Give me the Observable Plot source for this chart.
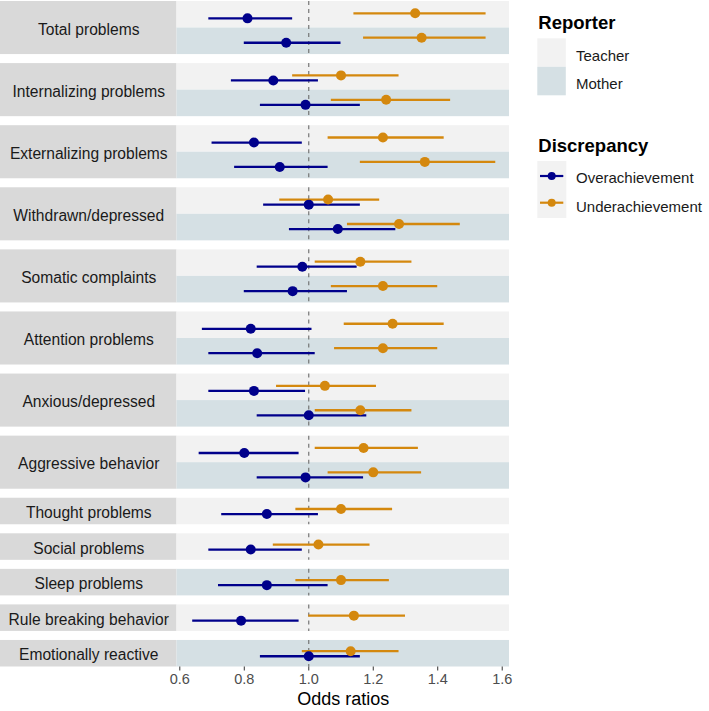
<!DOCTYPE html>
<html><head><meta charset="utf-8">
<script src="https://cdn.jsdelivr.net/npm/d3@7"></script>
<script src="https://cdn.jsdelivr.net/npm/@observablehq/plot@0.6"></script>
<style>
body{margin:0;background:#fff;font-family:"Liberation Sans",Arial,sans-serif;}
#wrap{position:relative;width:709px;height:711px;overflow:hidden;}
#chart{position:absolute;left:0;top:0;}
#legend{position:absolute;left:520px;top:0;}
g[aria-label="x-axis label"] text{fill:#000;font-size:18px;}
</style></head><body>
<div id="wrap"><div id="chart"></div><svg id="legend" width="189" height="711"></svg></div>
<script>
// ---------- data ----------
const problems = ["Total problems","Internalizing problems","Externalizing problems","Withdrawn/depressed","Somatic complaints","Attention problems","Anxious/depressed","Aggressive behavior","Thought problems","Social problems","Sleep problems","Rule breaking behavior","Emotionally reactive"];
const reporters = ["Teacher","Mother"];
const discrepancies = ["Overachievement","Underachievement"];
const xTicks = [0.6,0.8,1.0,1.2,1.4,1.6];

const teacherOverOR = [0.81,0.89,0.83,1.00,0.98,0.82,0.83,0.80,0.87,0.82,null,0.79,null];
const teacherOverLo = [0.69,0.76,0.70,0.86,0.84,0.67,0.69,0.66,0.73,0.69,null,0.64,null];
const teacherOverHi = [0.95,1.03,0.98,1.16,1.15,1.01,0.99,0.97,1.03,0.98,null,0.97,null];
const teacherUnderOR = [1.33,1.10,1.23,1.06,1.16,1.26,1.05,1.17,1.10,1.03,null,1.14,null];
const teacherUnderLo = [1.14,0.95,1.06,0.91,1.02,1.11,0.90,1.02,0.96,0.89,null,1.00,null];
const teacherUnderHi = [1.55,1.28,1.42,1.22,1.32,1.42,1.21,1.34,1.26,1.19,null,1.30,null];
const motherOverOR = [0.93,0.99,0.91,1.09,0.95,0.84,1.00,0.99,null,null,0.87,null,1.00];
const motherOverLo = [0.80,0.85,0.77,0.94,0.80,0.69,0.84,0.84,null,null,0.72,null,0.85];
const motherOverHi = [1.10,1.16,1.06,1.27,1.12,1.02,1.18,1.17,null,null,1.06,null,1.16];
const motherUnderOR = [1.35,1.24,1.36,1.28,1.23,1.23,1.16,1.20,null,null,1.10,null,1.13];
const motherUnderLo = [1.17,1.07,1.16,1.12,1.07,1.08,1.02,1.06,null,null,0.96,null,0.98];
const motherUnderHi = [1.55,1.44,1.58,1.47,1.40,1.40,1.32,1.35,null,null,1.25,null,1.28];

const series = {
  Teacher: {Overachievement:[teacherOverOR,teacherOverLo,teacherOverHi], Underachievement:[teacherUnderOR,teacherUnderLo,teacherUnderHi]},
  Mother:  {Overachievement:[motherOverOR,motherOverLo,motherOverHi],   Underachievement:[motherUnderOR,motherUnderLo,motherUnderHi]}
};

// ---------- colours ----------
const colTeacher = "#f2f2f2", colMother = "#d5e0e4";
const colOver = "#00008b", colUnder = "#d4880e";

// ---------- layout (rows in band units) ----------
const GAP = 0.34, DODGE = 0.095;
const facets = [], bands = [], estimates = [];
let t = 0;
problems.forEach((p, i) => {
  const present = reporters.filter(r => series[r].Overachievement[0][i] != null);
  const n = present.length;
  facets.push({problem: p, top: t, bottom: t + n});
  present.forEach((r, k) => {
    bands.push({reporter: r, y1: t + k, y2: t + k + 1});
    const cy = n === 2 ? t + [0.54, 1.46][k] : t + 0.5;
    discrepancies.forEach(d => {
      const [o, lo, hi] = series[r][d];
      estimates.push({problem: p, reporter: r, discrepancy: d, or: o[i], lo: lo[i], hi: hi[i],
        ypos: cy + (d === "Underachievement" ? -DODGE : DODGE)});
    });
  });
  t += n + GAP;
});
const total = t - GAP;

const W = 520, H = 711, mL = 176.5, mR = 11, mT = 1, mB = 44.5;
const xDomain = [0.5913, 1.6226];
const pxPerUnit = (W - mL - mR) / (xDomain[1] - xDomain[0]);
const stripX1 = xDomain[0] - mL / pxPerUnit, stripX2 = xDomain[0];

const chart = Plot.plot({
  width: W, height: H, marginLeft: mL, marginRight: mR, marginTop: mT, marginBottom: mB,
  style: {fontFamily: "'Liberation Sans', Arial, sans-serif", fontSize: "14px", background: "white", overflow: "visible"},
  x: {domain: xDomain, axis: null},
  y: {domain: [0, total], range: [mT, H - mB], axis: null},
  color: {type: "ordinal", domain: [...reporters, ...discrepancies], range: [colTeacher, colMother, colOver, colUnder]},
  marks: [
    Plot.rect(facets, {x1: () => stripX1, x2: () => stripX2, y1: "top", y2: "bottom", fill: "#d9d9d9"}),
    Plot.rect(bands, {y1: "y1", y2: "y2", fill: "reporter"}),
    Plot.ruleX(facets, {x: () => 1, y1: "top", y2: "bottom", stroke: "#6b6b6b", strokeWidth: 1.1, strokeDasharray: "4,4"}),
    Plot.ruleY(estimates, {filter: d => d.or != null, y: "ypos", x1: "lo", x2: "hi", stroke: "discrepancy", strokeWidth: 2.3}),
    Plot.dot(estimates, {filter: d => d.or != null, x: "or", y: "ypos", fill: "discrepancy", r: 5}),
    Plot.text(facets, {y: d => (d.top + d.bottom) / 2, text: "problem", frameAnchor: "left", dx: -88.25, dy: 1.5,
      textAnchor: "middle", fontSize: 15.6, fill: "#1a1a1a"}),
    Plot.axisX({ticks: xTicks, tickFormat: d3.format(".1f"), tickSize: 4, tickPadding: 3, fontSize: 14.5,
      fill: "#4d4d4d", stroke: "#333", label: "Odds ratios", labelAnchor: "center", labelArrow: "none", labelOffset: 38})
  ]
});
document.getElementById("chart").appendChild(chart);

// ---------- legend ----------
const lg = d3.select("#legend").style("font-family", "'Liberation Sans', Arial, sans-serif");
lg.append("text").attr("x", 18.3).attr("y", 29).attr("font-weight", "bold").attr("font-size", 18.5).attr("fill", "#000").text("Reporter");
[[colTeacher, reporters[0], 38.3, 60.5], [colMother, reporters[1], 66.8, 89]].forEach(([c, label, y, by]) => {
  lg.append("rect").attr("x", 17.3).attr("y", y).attr("width", 28.5).attr("height", 28.5).attr("fill", c);
  lg.append("text").attr("x", 56).attr("y", by).attr("font-size", 15).attr("fill", "#1a1a1a").text(label);
});
lg.append("text").attr("x", 18.3).attr("y", 151.7).attr("font-weight", "bold").attr("font-size", 18.5).attr("fill", "#000").text("Discrepancy");
lg.append("rect").attr("x", 17.3).attr("y", 161).attr("width", 29).attr("height", 57).attr("fill", "#f2f2f2");
[[colOver, discrepancies[0], 176, 183.3], [colUnder, discrepancies[1], 202.7, 211.7]].forEach(([c, label, cy, by]) => {
  lg.append("line").attr("x1", 20).attr("x2", 43.3).attr("y1", cy).attr("y2", cy).attr("stroke", c).attr("stroke-width", 2.2);
  lg.append("circle").attr("cx", 31.7).attr("cy", cy).attr("r", 4).attr("fill", c);
  lg.append("text").attr("x", 56).attr("y", by).attr("font-size", 15).attr("fill", "#1a1a1a").text(label);
});
</script></body></html>
